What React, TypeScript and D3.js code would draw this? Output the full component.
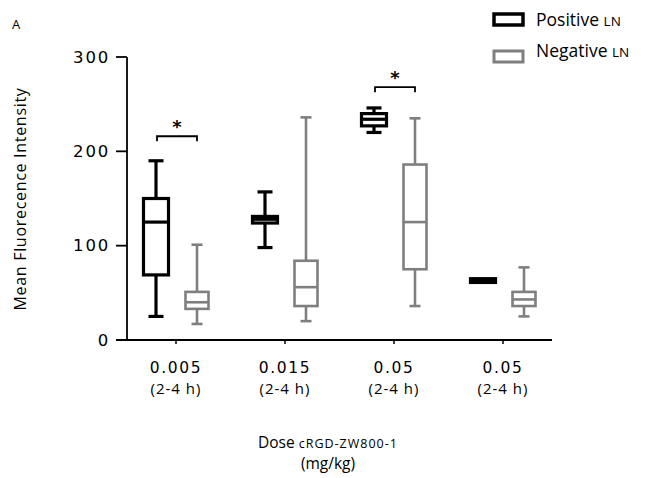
import React from "react";
import * as d3 from "d3";

const categories = ["0.005", "0.015", "0.05", "0.05"];
const subLabels = ["(2-4 h)", "(2-4 h)", "(2-4 h)", "(2-4 h)"];
const seriesNames = ["Positive", "Negative"];
// [min, q1, median, q3, max]
const positiveStats = [
  [25, 69, 125, 150, 190],
  [98, 124, 128, 131, 157],
  [220, 227, 234, 240, 246],
  [62, 61, 63, 65, 64],
];
const negativeStats = [
  [17, 33, 40, 51, 101],
  [20, 36, 56, 84, 236],
  [36, 75, 125, 186, 235],
  [25, 36, 43, 51, 77],
];
const yTicks = [0, 100, 200, 300];
const significant = [0, 2];

const W = 645, H = 478;

export default function App() {
  const x = d3.scaleLinear().domain([0, 3]).range([176, 503]);
  const y = d3.scaleLinear().domain([0, 300]).range([340, 57]);
  const font = "'Open Sans', 'Noto Sans', sans-serif";
  const tickFont = "'DejaVu Sans', sans-serif";
  const series = [
    { stats: positiveStats, color: "#000", off: -20, sw: 3.2, cap: 15, bw: 25 },
    { stats: negativeStats, color: "#7f7f7f", off: 21, sw: 2.6, cap: 11, bw: 23 },
  ];
  return (
    <svg width={W} height={H} style={{ position: "absolute", left: 0, top: 0, background: "#fff" }}>
      <text x={12} y={29} fontFamily={font} fontSize={13}>A</text>
      {/* y axis */}
      <line x1={127} x2={127} y1={y(300)} y2={y(0)} stroke="#000" strokeWidth={1.8} />
      {yTicks.map((t) => (
        <g key={t}>
          <line x1={116} x2={127} y1={y(t)} y2={y(t)} stroke="#000" strokeWidth={1.8} />
          <text x={110} y={y(t) + 5.5} textAnchor="end" fontFamily={tickFont} fontSize={16.5} letterSpacing={1.8}>{t}</text>
        </g>
      ))}
      {/* x axis */}
      <line x1={116} x2={552} y1={y(0)} y2={y(0)} stroke="#000" strokeWidth={1.8} />
      {categories.map((c, i) => (
        <g key={i}>
          <line x1={x(i)} x2={x(i)} y1={y(0)} y2={y(0) + 4} stroke="#000" strokeWidth={1.5} />
          <text x={x(i)} y={373} textAnchor="middle" fontFamily={tickFont} fontSize={15.5} letterSpacing={1.6}>{c}</text>
          <text x={x(i)} y={394} textAnchor="middle" fontFamily={font} fontSize={15} letterSpacing={1}>{subLabels[i]}</text>
        </g>
      ))}
      {/* boxes */}
      {series.map((s, si) =>
        s.stats.map((st, i) => {
          const cx = x(i) + s.off;
          const [mn, q1, md, q3, mx] = st;
          const lo = Math.min(q1, q3), hi = Math.max(q1, q3);
          return (
            <g key={`${si}-${i}`} stroke={s.color} strokeWidth={s.sw} fill="none">
              <line x1={cx} x2={cx} y1={y(mx)} y2={y(hi)} />
              <line x1={cx} x2={cx} y1={y(lo)} y2={y(mn)} />
              <line x1={cx - s.cap / 2} x2={cx + s.cap / 2} y1={y(mx)} y2={y(mx)} />
              <line x1={cx - s.cap / 2} x2={cx + s.cap / 2} y1={y(mn)} y2={y(mn)} />
              <rect x={cx - s.bw / 2} width={s.bw} y={y(hi)} height={Math.max(0.5, y(lo) - y(hi))} fill="#fff" />
              <line x1={cx - s.bw / 2} x2={cx + s.bw / 2} y1={y(md)} y2={y(md)} />
            </g>
          );
        })
      )}
      {/* significance */}
      {significant.map((i) => {
        const by = i === 0 ? y(216) : y(268);
        const x1 = x(i) - 19, x2 = x(i) + 21;
        return (
          <g key={`sig${i}`}>
            <path d={`M${x1},${by + 5}V${by}H${x2}V${by + 5}`} stroke="#000" strokeWidth={1.8} fill="none" />
            <text x={(x1 + x2) / 2} y={by - 3} textAnchor="middle" fontFamily={tickFont} fontSize={18} fontWeight="bold">*</text>
          </g>
        );
      })}
      {/* legend */}
      <rect x={494} y={14} width={29} height={11} fill="#fff" stroke="#000" strokeWidth={3.5} />
      <text x={536} y={26} fontFamily={font} fontSize={17.5}>
        {seriesNames[0]} <tspan fontSize={13.5}>LN</tspan>
      </text>
      <rect x={494} y={51} width={29} height={11} fill="#fff" stroke="#7f7f7f" strokeWidth={3} />
      <text x={536} y={57} fontFamily={font} fontSize={17.5}>
        {seriesNames[1]} <tspan fontSize={13.5}>LN</tspan>
      </text>
      {/* axis titles */}
      <text transform="translate(26,199) rotate(-90)" textAnchor="middle" fontFamily={font} fontSize={16} letterSpacing={0.7}>
        Mean Fluorecence Intensity
      </text>
      <text x={328} y={448} textAnchor="middle" fontFamily={font} fontSize={15.5}>
        Dose <tspan fontSize={12.5} letterSpacing={1}>cRGD-ZW800-1</tspan>
      </text>
      <text x={328} y={469} textAnchor="middle" fontFamily={font} fontSize={15.5}>(mg/kg)</text>
    </svg>
  );
}
